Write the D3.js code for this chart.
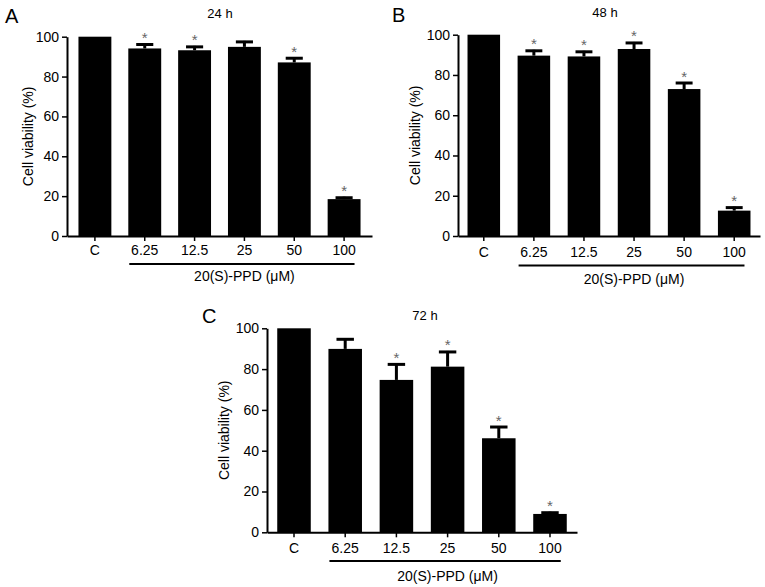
<!DOCTYPE html>
<html>
<head>
<meta charset="utf-8">
<script src="https://cdn.jsdelivr.net/npm/d3@7"></script>
<style>
  html, body { margin: 0; padding: 0; background: #fff; }
  svg { display: block; }
  text { font-family: "Liberation Sans", Arial, Helvetica, sans-serif; fill: #000; }
</style>
</head>
<body>
<svg id="chart" width="765" height="587"></svg>
<script>
// ---- data ----
const categories = ["C", "6.25", "12.5", "25", "50", "100"];
const yTicks = [0, 20, 40, 60, 80, 100];
const groupLabel = "20(S)-PPD (\u03BCM)";
const yLabel = "Cell viability (%)";

const means24 = [100, 94.1, 93.2, 94.9, 87.1, 18.5];
const err24   = [0, 2.5, 2.2, 3.0, 2.6, 1.2];
const sig24   = [false, true, true, false, true, true];

const means48 = [100, 89.6, 89.2, 92.9, 73.0, 12.6];
const err48   = [0, 2.9, 2.8, 3.5, 3.5, 2.0];
const sig48   = [false, true, true, true, true, true];

const means72 = [100, 89.9, 74.7, 81.2, 46.1, 9.0];
const err72   = [0, 5.2, 8.1, 7.7, 6.0, 1.1];
const sig72   = [false, false, true, true, true, true];

const panels = [
  { letter: "A", title: "24 h", means: means24, errs: err24, sig: sig24,
    x0: 67, x1: 372, yTop: 36.7, yBot: 236, pInner: 0.34, pOuter: 0.23,
    letterX: 5, letterY: 23, titleX: 220, titleY: 18, yLabX: 28, tickLabY: 255, lineY: 264, groupY: 281 },
  { letter: "B", title: "48 h", means: means48, errs: err48, sig: sig48,
    x0: 458, x1: 760, yTop: 34.7, yBot: 236, pInner: 0.35, pOuter: 0.19,
    letterX: 392, letterY: 22, titleX: 605, titleY: 17, yLabX: 415, tickLabY: 257, lineY: 265.5, groupY: 284 },
  { letter: "C", title: "72 h", means: means72, errs: err72, sig: sig72,
    x0: 267, x1: 577, yTop: 328.3, yBot: 532.3, pInner: 0.345, pOuter: 0.2,
    letterX: 202, letterY: 323, titleX: 425, titleY: 320, yLabX: 224, tickLabY: 553, lineY: 561, groupY: 581 }
];

const svg = d3.select("#chart");

panels.forEach(p => {
  const g = svg.append("g");
  const data = categories.map((c, i) => ({ cat: c, mean: p.means[i], err: p.errs[i], sig: p.sig[i] }));

  const x = d3.scaleBand().domain(categories).range([p.x0, p.x1])
    .paddingInner(p.pInner).paddingOuter(p.pOuter);
  const y = d3.scaleLinear().domain([0, 100]).range([p.yBot, p.yTop]);
  const bw = x.bandwidth();

  // bars
  g.selectAll("rect.bar").data(data).enter().append("rect")
    .attr("class", "bar")
    .attr("x", d => x(d.cat))
    .attr("y", d => y(d.mean))
    .attr("width", bw)
    .attr("height", d => y(0) - y(d.mean))
    .attr("fill", "#000");

  // error bars (upper only)
  const eb = data.filter(d => d.err > 0);
  g.selectAll("line.stem").data(eb).enter().append("line")
    .attr("x1", d => x(d.cat) + bw / 2).attr("x2", d => x(d.cat) + bw / 2)
    .attr("y1", d => y(d.mean)).attr("y2", d => y(d.mean + d.err))
    .attr("stroke", "#000").attr("stroke-width", 3);
  g.selectAll("line.cap").data(eb).enter().append("line")
    .attr("x1", d => x(d.cat) + bw / 2 - bw * 0.26).attr("x2", d => x(d.cat) + bw / 2 + bw * 0.26)
    .attr("y1", d => y(d.mean + d.err) + 1).attr("y2", d => y(d.mean + d.err) + 1)
    .attr("stroke", "#000").attr("stroke-width", 3);

  // asterisks
  g.selectAll("text.sig").data(data.filter(d => d.sig)).enter().append("text")
    .attr("x", d => x(d.cat) + bw / 2)
    .attr("y", d => y(d.mean + d.err) - 0.5)
    .attr("text-anchor", "middle")
    .style("font-size", "15px")
    .style("fill", "#666")
    .text("*");

  // y axis
  const yAxis = d3.axisLeft(y).tickValues(yTicks).tickSize(5).tickSizeOuter(0).tickPadding(3);
  const ya = g.append("g").attr("transform", `translate(${p.x0},0)`).call(yAxis);
  ya.select(".domain").attr("stroke-width", 2);
  ya.selectAll(".tick line").attr("stroke-width", 1.5);
  ya.selectAll(".tick text").style("font-size", "14px").attr("fill", "#000");

  // x axis
  const xAxis = d3.axisBottom(x).tickSize(5).tickSizeOuter(0).tickPadding(4);
  const xa = g.append("g").attr("transform", `translate(0,${p.yBot})`).call(xAxis);
  xa.select(".domain").attr("stroke-width", 2);
  xa.selectAll(".tick line").attr("stroke-width", 1.5);
  xa.selectAll(".tick text").style("font-size", "14px").attr("fill", "#000")
    .attr("dy", null).attr("y", p.tickLabY - p.yBot);

  // group underline
  g.append("line")
    .attr("x1", x(categories[1]) + 1)
    .attr("x2", x(categories[categories.length - 1]) + bw - 6)
    .attr("y1", p.lineY).attr("y2", p.lineY)
    .attr("stroke", "#000").attr("stroke-width", 2);
  g.append("text")
    .attr("x", (x(categories[1]) + x(categories[categories.length - 1]) + bw) / 2)
    .attr("y", p.groupY)
    .attr("text-anchor", "middle")
    .style("font-size", "14px")
    .text(groupLabel);

  // y label
  g.append("text")
    .attr("transform", `translate(${p.yLabX},${(p.yTop + p.yBot) / 2}) rotate(-90)`)
    .attr("text-anchor", "middle")
    .attr("dy", "0.35em")
    .style("font-size", "14px")
    .text(yLabel);

  // title
  g.append("text")
    .attr("x", p.titleX).attr("y", p.titleY)
    .attr("text-anchor", "middle")
    .style("font-size", "13px")
    .text(p.title);

  // panel letter
  g.append("text")
    .attr("x", p.letterX).attr("y", p.letterY)
    .style("font-size", "20px")
    .text(p.letter);
});
</script>
</body>
</html>
